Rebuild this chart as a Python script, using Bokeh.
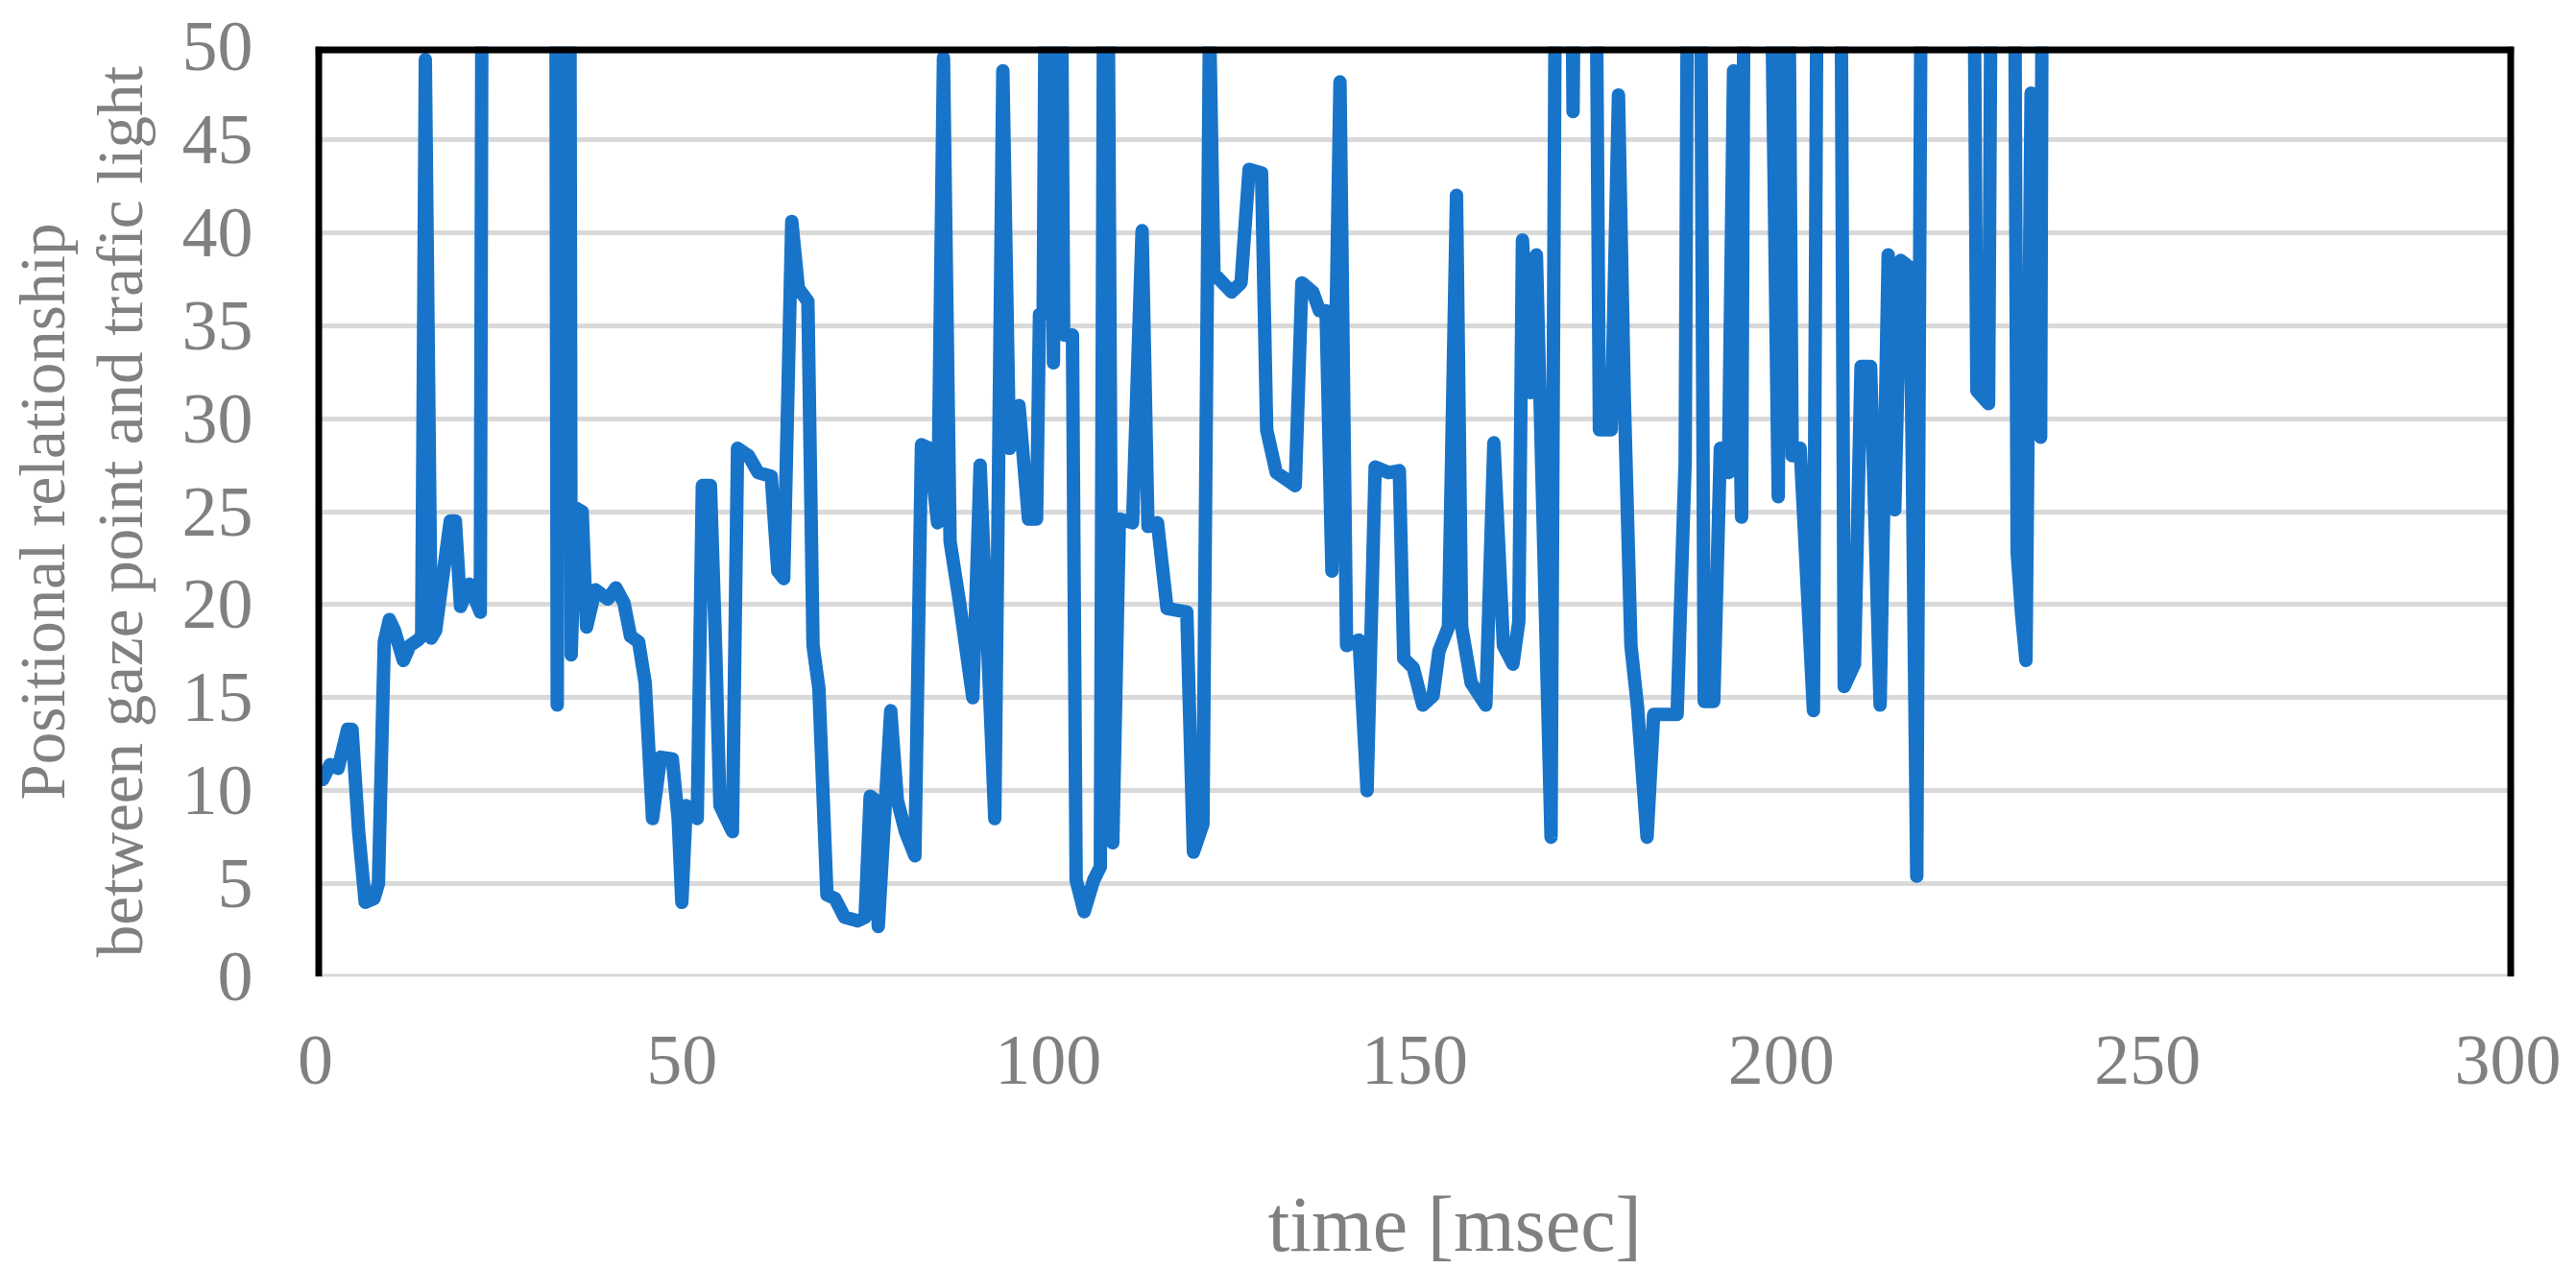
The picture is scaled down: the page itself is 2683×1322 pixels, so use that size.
import math
from bokeh.plotting import figure
from bokeh.models import Range1d, Span, FixedTicker, LinearAxis, Title
from bokeh.embed import file_html
from bokeh.resources import INLINE

# ---- data (values above 50 run off the top of the chart) ----
time_ms = [
    1.0, 2.0, 3.1, 4.4, 5.0, 5.9, 6.8, 8.0, 8.6, 9.4, 10.1, 10.8, 12.0, 12.9, 14.0, 14.5,
    15.0, 15.8, 16.4, 18.4, 19.1, 19.8, 21.0, 22.5, 22.9, 32.7, 33.0, 33.3, 34.6, 34.9,
    35.5, 36.4, 37.0, 38.2, 39.9, 41.0, 42.1, 43.0, 44.1, 45.0, 46.0, 47.1, 48.7, 49.5,
    50.0, 50.6, 52.1, 52.8, 53.9, 54.6, 55.2, 56.9, 57.6, 59.1, 60.4, 62.2, 63.1, 63.9,
    65.0, 65.9, 67.2, 67.9, 68.7, 69.8, 70.9, 72.2, 74.0, 75.0, 75.7, 76.4, 76.8, 78.5,
    79.4, 80.5, 81.8, 82.7, 83.8, 84.9, 85.7, 86.6, 87.9, 89.7, 90.7, 92.7, 93.8, 94.7,
    96.0, 97.3, 98.4, 98.8, 99.3, 100.0, 100.7, 101.4, 102.1, 103.3, 103.8, 104.9, 106.2,
    107.1, 107.8, 108.8, 109.7, 111.5, 112.8, 113.6, 114.9, 116.2, 118.9, 119.8, 121.1,
    122.0, 122.6, 125.0, 126.3, 127.4, 129.1, 129.8, 131.1, 133.7, 134.6, 136.1, 137.0,
    137.9, 138.7, 139.8, 140.7, 142.4, 143.5, 144.6, 146.4, 147.9, 148.5, 149.8, 151.1,
    152.5, 153.3, 154.6, 155.7, 156.4, 157.7, 159.7, 160.8, 162.1, 163.4, 164.2, 164.7,
    165.8, 166.6, 168.6, 169.5, 171.0, 171.6, 172.3, 174.3, 175.2, 176.8, 177.8, 178.6,
    179.5, 180.4, 181.7, 182.6, 185.8, 186.9, 187.5, 188.7, 189.5, 190.8, 191.7, 192.8,
    193.5, 194.6, 195.2, 197.8, 199.6, 200.6, 201.5, 202.6, 204.4, 205.2, 207.9, 208.6,
    210.0, 210.9, 212.2, 213.5, 214.6, 215.5, 216.3, 217.6, 218.5, 219.4, 225.9, 226.7,
    228.3, 229.0, 231.6, 232.2, 232.8, 233.4, 234.1, 234.6, 235.4, 235.8,
]
distance = [
    10.6, 11.4, 11.2, 13.3, 13.3, 7.8, 4.0, 4.2, 5.0, 18.0, 19.2, 18.6, 17.0, 17.8, 18.1, 18.3,
    49.3, 18.2, 18.6, 24.5, 24.5, 19.9, 21.1, 19.6, 80, 80, 14.6, 80, 80, 17.3,
    25.2, 25.0, 18.8, 20.8, 20.3, 20.9, 20.1, 18.3, 18.0, 15.8, 8.5, 11.8, 11.7, 8.5,
    4.0, 9.2, 8.5, 26.4, 26.4, 17.8, 9.2, 7.8, 28.4, 28.0, 27.1, 26.9, 21.8, 21.4,
    40.6, 37.0, 36.3, 17.8, 15.5, 4.4, 4.2, 3.2, 3.0, 3.2, 9.7, 9.5, 2.7, 14.3,
    9.5, 7.8, 6.5, 28.6, 28.4, 24.4, 49.4, 23.4, 20.1, 15.0, 27.5, 8.5, 48.7, 28.4,
    30.7, 24.6, 24.6, 35.6, 35.6, 80, 33.0, 80, 34.5, 34.5, 5.2, 3.5, 5.2,
    5.9, 80, 7.2, 24.6, 24.4, 40.1, 24.2, 24.4, 19.8, 19.6, 6.7, 8.2,
    51.5, 37.8, 36.8, 37.3, 43.4, 43.2, 29.4, 27.1, 26.4, 37.3, 36.8, 35.8,
    35.8, 21.8, 48.1, 17.8, 18.1, 10.0, 27.4, 27.1, 27.2, 17.1, 16.6, 14.6,
    15.1, 17.5, 18.8, 42.0, 18.8, 15.8, 14.6, 28.7, 17.8, 16.8, 19.1, 39.6,
    31.4, 38.8, 7.5, 80, 80, 46.5, 80, 80, 29.4, 29.4, 47.4, 31.0,
    17.8, 14.5, 7.5, 14.1, 14.1, 27.7, 80, 80, 14.8, 14.8, 28.4, 27.1,
    48.7, 24.7, 80, 80, 25.8, 80, 28.0, 28.4, 14.3, 80, 80, 15.6,
    16.8, 32.8, 32.8, 14.6, 38.8, 25.1, 38.5, 38.1, 5.4, 80, 80, 31.5,
    30.8, 80, 80, 22.8, 19.5, 17.0, 47.5, 47.3, 29.0, 80,
]
x_ticks = [0, 50, 100, 150, 200, 250, 300]
y_ticks = [0, 5, 10, 15, 20, 25, 30, 35, 40, 45, 50]
x_title = "time [msec]"
y_title_line1 = "Positional relationship"
y_title_line2 = "between gaze point and trafic light"

FONT = "Liberation Serif"
TEXT_COLOR = "#808080"

p = figure(
    width=2667, height=1320,
    output_backend="svg", toolbar_location=None,
    x_range=Range1d(0, 300), y_range=Range1d(0, 50),
    min_border_left=328, min_border_right=49, min_border_top=48, min_border_bottom=299,
    background_fill_color="white", border_fill_color="white",
)

p.outline_line_color = None

p.xgrid.visible = False
p.ygrid.ticker = FixedTicker(ticks=y_ticks)
p.ygrid.grid_line_color = "#d9d9d9"
p.ygrid.grid_line_width = 5

for ax in (p.xaxis[0], p.yaxis[0]):
    ax.axis_line_color = None
    ax.major_tick_line_color = None
    ax.minor_tick_line_color = None
    ax.major_tick_out = 0
    ax.major_tick_in = 0
    ax.major_label_text_font = FONT
    ax.major_label_text_color = TEXT_COLOR
    ax.major_label_text_font_size = "74px"
    ax.axis_label_text_font = FONT
    ax.axis_label_text_color = TEXT_COLOR
    ax.axis_label_text_font_style = "normal"

p.xaxis.ticker = FixedTicker(ticks=x_ticks)
p.yaxis.ticker = FixedTicker(ticks=y_ticks)
p.xaxis.major_label_standoff = 62
p.yaxis.major_label_standoff = 65

p.yaxis.axis_label = y_title_line2
p.yaxis.axis_label_text_font_size = "67px"
p.yaxis.axis_label_standoff = 25


def blank_axis(**kw):
    a = LinearAxis(ticker=FixedTicker(ticks=[]), **kw)
    a.axis_line_color = None
    a.major_tick_line_color = None
    a.minor_tick_line_color = None
    a.major_tick_in = 0
    a.major_tick_out = 0
    a.major_label_standoff = 0
    a.axis_label_text_font = FONT
    a.axis_label_text_color = TEXT_COLOR
    a.axis_label_text_font_style = "normal"
    return a


outer = blank_axis(axis_label=y_title_line1)
outer.axis_label_standoff = 4
outer.axis_label_text_font_size = "67px"
p.add_layout(outer, "left")

# empty spacer below the x tick labels, then the x-axis title
spacer = blank_axis(axis_label="\u00a0")
spacer.axis_label_text_font_size = "1px"
spacer.axis_label_standoff = 92
p.add_layout(spacer, "below")

p.add_layout(Title(text=x_title, align="left", offset=992, standoff=0,
                   text_font=FONT, text_font_size="82px", text_color=TEXT_COLOR,
                   text_font_style="normal"), "below")

p.line(time_ms, distance, line_color="#1874C9", line_width=14,
       line_join="round", line_cap="round")

# plot-area border: black on left, top, right; grey along the base
p.add_layout(Span(location=0, dimension="width", line_color="#d9d9d9", line_width=6))
p.add_layout(Span(location=0, dimension="height", line_color="black", line_width=14))
p.add_layout(Span(location=300, dimension="height", line_color="black", line_width=14))
p.add_layout(Span(location=50, dimension="width", line_color="black", line_width=14))

open("out.html", "w").write(file_html(p, INLINE))
